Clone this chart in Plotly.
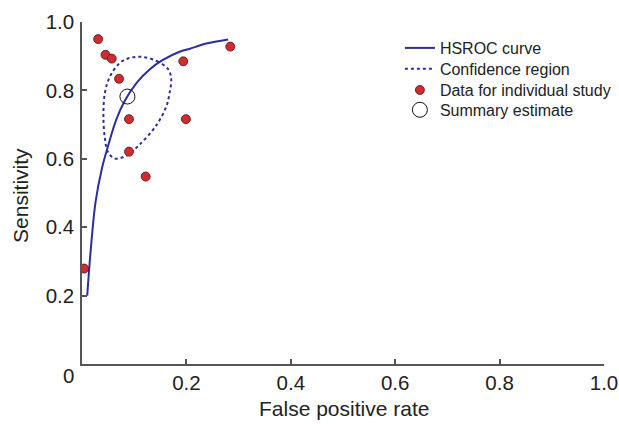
import plotly.graph_objects as go

# HSROC curve
curve_fpr = [0.010, 0.017, 0.026, 0.038, 0.050, 0.066, 0.082, 0.105, 0.130, 0.155, 0.187, 0.207, 0.238, 0.280]
curve_sens = [0.200, 0.338, 0.474, 0.571, 0.638, 0.716, 0.770, 0.823, 0.862, 0.889, 0.913, 0.922, 0.937, 0.949]

# Confidence region (closed loop)
region_fpr = [0.114, 0.143, 0.165, 0.171, 0.168, 0.162, 0.142, 0.108, 0.085, 0.063, 0.050, 0.044, 0.041, 0.044, 0.054, 0.073, 0.092, 0.114]
region_sens = [0.898, 0.886, 0.862, 0.833, 0.795, 0.755, 0.697, 0.638, 0.609, 0.601, 0.619, 0.658, 0.726, 0.794, 0.842, 0.881, 0.895, 0.898]

# Individual studies
study_fpr = [0.031, 0.045, 0.057, 0.071, 0.090, 0.090, 0.122, 0.194, 0.199, 0.284, 0.004]
study_sens = [0.950, 0.904, 0.893, 0.834, 0.716, 0.621, 0.548, 0.885, 0.716, 0.928, 0.279]

# Summary estimate
summary_fpr = [0.087]
summary_sens = [0.782]

tick_vals = [0.2, 0.4, 0.6, 0.8, 1.0]
tick_text = ["0.2", "0.4", "0.6", "0.8", "1.0"]

blue = "#2b2f9b"
text_color = "#222222"
font_family = "Liberation Sans, Arial, sans-serif"

fig = go.Figure()
fig.add_trace(go.Scatter(x=curve_fpr, y=curve_sens, mode="lines", name="HSROC curve",
                         line=dict(color=blue, width=2, shape="spline"), legend="legend"))
fig.add_trace(go.Scatter(x=region_fpr, y=region_sens, mode="lines", name="Confidence region",
                         line=dict(color=blue, width=2, dash="dot", shape="spline"), legend="legend2"))
fig.add_trace(go.Scatter(x=study_fpr, y=study_sens, mode="markers", name="Data for individual study",
                         marker=dict(color="#d22a30", size=9, line=dict(color="#4a1414", width=0.8)),
                         legend="legend3"))
fig.add_trace(go.Scatter(x=summary_fpr, y=summary_sens, mode="markers", name="Summary estimate",
                         marker=dict(color="rgba(0,0,0,0)", size=15, line=dict(color="#111111", width=1)),
                         legend="legend4"))

axis_common = dict(range=[0, 1], showgrid=False, zeroline=False, showline=True, automargin=False,
                   linecolor="#555555", linewidth=1.5, ticks="inside", ticklen=5,
                   tickcolor="#555555", tickwidth=1.5, tickvals=tick_vals, ticktext=tick_text,
                   tickfont=dict(size=20.5, color=text_color, family=font_family))

def legend_box(ypos):
    return dict(x=0.609, y=ypos, xanchor="left", yanchor="middle", bgcolor="rgba(0,0,0,0)",
                font=dict(size=16, color=text_color, family=font_family), itemwidth=30)

fig.update_layout(
    width=619, height=424,
    margin=dict(l=82, r=15, t=22, b=60, autoexpand=False),
    paper_bgcolor="white", plot_bgcolor="white",
    font=dict(family=font_family, color=text_color),
    xaxis=dict(**axis_common, ticklabelstandoff=0),
    yaxis=dict(**axis_common, ticklabelstandoff=2),
    showlegend=True,
    legend=legend_box(0.924),
    legend2=legend_box(0.863),
    legend3=legend_box(0.801),
    legend4=legend_box(0.743),
)

fig.add_annotation(text="0", xref="paper", yref="paper", x=-0.025, y=-0.034,
                   xanchor="center", yanchor="middle", showarrow=False,
                   font=dict(size=20.5, color=text_color))
fig.add_annotation(text="False positive rate", xref="paper", yref="paper", x=0.502, y=-0.129,
                   xanchor="center", yanchor="middle", showarrow=False,
                   font=dict(size=21, color=text_color))
fig.add_annotation(text="Sensitivity", xref="paper", yref="paper", x=-0.119, y=0.494,
                   xanchor="center", yanchor="middle", showarrow=False, textangle=-90,
                   font=dict(size=21, color=text_color))

fig.write_html("out.html", config={"displayModeBar": False},
               post_script="document.body.style.margin='0';document.body.style.overflow='hidden';")
